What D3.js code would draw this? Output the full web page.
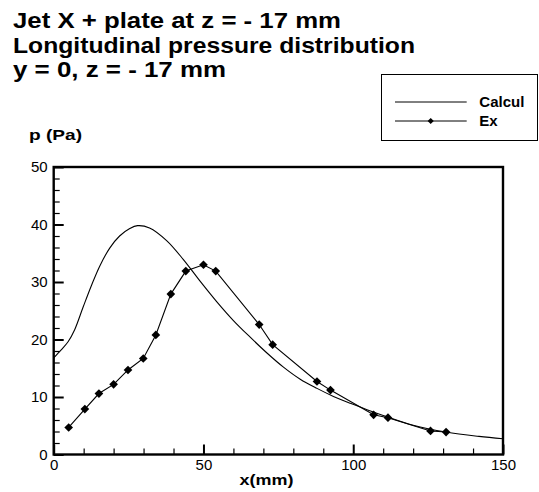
<!DOCTYPE html>
<html><head><meta charset="utf-8">
<script src="https://cdn.jsdelivr.net/npm/d3@7"></script>
<style>
body{margin:0;background:#fff}
svg{display:block}
text{font-family:"Liberation Sans",Arial,Helvetica,sans-serif;fill:#000}
</style>
</head><body>
<svg id="chart" width="539" height="492"></svg>
<script>
// ---- data ----
const titleLines = ["Jet X + plate at z = - 17 mm", "Longitudinal pressure distribution", "y = 0, z = - 17 mm"];
const xLabel = "x(mm)";
const yLabel = "p (Pa)";
const seriesNames = ["Calcul", "Ex"];
const xTicks = [0, 50, 100, 150];
const yTicks = [0, 10, 20, 30, 40, 50];
const xMinorTicks = [10, 20, 30, 40, 60, 70, 80, 90, 110, 120, 130, 140];
const yMinorTicks = [2, 4, 6, 8, 12, 14, 16, 18, 22, 24, 26, 28, 32, 34, 36, 38, 42, 44, 46, 48];

const calculX = [0, 2.5, 4.8, 7, 9.8, 12.6, 15.4, 18.7, 22, 25.4, 28, 32, 37.7, 43.3, 48.8, 54.4, 60, 65.6, 71.1, 76.7, 82.3, 87.9, 93.4, 99, 104.6, 110, 120, 131, 142, 150];
const calculY = [16.8, 18.2, 19.6, 21.7, 25.6, 29.4, 32.8, 35.9, 38.0, 39.3, 39.8, 39.4, 37.2, 33.9, 30.2, 26.6, 23.3, 20.4, 17.7, 15.2, 13.1, 11.5, 10.1, 8.9, 7.8, 6.8, 5.1, 3.9, 3.15, 2.75];

const exX = [5.0, 10.4, 15.1, 20.0, 24.8, 29.9, 34.1, 39.1, 44.1, 50.0, 54.1, 68.6, 73.1, 87.9, 92.4, 106.8, 111.6, 125.8, 131.0];
const exY = [4.7, 7.9, 10.6, 12.2, 14.7, 16.7, 20.8, 27.9, 31.9, 33.0, 31.9, 22.6, 19.1, 12.7, 11.2, 6.9, 6.4, 4.1, 3.9];

// ---- layout ----
const svg = d3.select("#chart");
const x = d3.scaleLinear().domain([0, 150]).range([53.7, 503]);
const y = d3.scaleLinear().domain([0, 50]).range([454.5, 167]);

// title
const titleWidths = [328, 402, 213];
titleLines.forEach((t, i) => {
  svg.append("text")
    .attr("x", 13).attr("y", 28 + i * 24.5)
    .attr("font-size", 22).attr("font-weight", "bold")
    .attr("textLength", titleWidths[i]).attr("lengthAdjust", "spacingAndGlyphs")
    .text(t);
});

// y label
svg.append("text").attr("x", 29).attr("y", 140)
  .attr("font-size", 15).attr("font-weight", "bold")
  .attr("textLength", 53).attr("lengthAdjust", "spacingAndGlyphs")
  .text(yLabel);

// x label
svg.append("text").attr("x", 239.5).attr("y", 485)
  .attr("font-size", 15).attr("font-weight", "bold")
  .attr("textLength", 54).attr("lengthAdjust", "spacingAndGlyphs")
  .text(xLabel);

// axes: major
const gx = svg.append("g").attr("transform", `translate(0,${y(0)})`)
  .call(d3.axisBottom(x).tickValues(xTicks).tickSizeInner(-10).tickSizeOuter(0).tickPadding(5).tickFormat(d3.format("d")));
const gy = svg.append("g").attr("transform", `translate(${x(0)},0)`)
  .call(d3.axisLeft(y).tickValues(yTicks).tickSizeInner(-10).tickSizeOuter(0).tickPadding(6).tickFormat(d3.format("d")));
// minor
svg.append("g").attr("transform", `translate(0,${y(0)})`)
  .call(d3.axisBottom(x).tickValues(xMinorTicks).tickSizeInner(-6).tickSizeOuter(0).tickFormat(""));
svg.append("g").attr("transform", `translate(${x(0)},0)`)
  .call(d3.axisLeft(y).tickValues(yMinorTicks).tickSizeInner(-6).tickSizeOuter(0).tickFormat(""));

svg.selectAll(".domain").remove();
svg.selectAll(".tick line").attr("stroke", "#000").attr("stroke-width", 1.2);
gx.selectAll(".tick line").attr("stroke-width", 2);
gy.selectAll(".tick line").attr("stroke-width", 2);
svg.selectAll(".tick text").attr("font-size", 15).attr("font-family", "'Liberation Sans',Arial,sans-serif").attr("fill", "#000");

// frame
svg.append("rect")
  .attr("x", x(0)).attr("y", y(50))
  .attr("width", x(150) - x(0)).attr("height", y(0) - y(50))
  .attr("fill", "none").attr("stroke", "#000").attr("stroke-width", 2.4);

// Calcul curve
const calc = calculX.map((v, i) => [v, calculY[i]]);
svg.append("path").datum(calc)
  .attr("fill", "none").attr("stroke", "#000").attr("stroke-width", 1.1)
  .attr("d", d3.line().x(d => x(d[0])).y(d => y(d[1])).curve(d3.curveCatmullRom.alpha(0.5)));

// Ex
const ex = exX.map((v, i) => [v, exY[i]]);
svg.append("path").datum(ex)
  .attr("fill", "none").attr("stroke", "#000").attr("stroke-width", 1.1)
  .attr("d", d3.line().x(d => x(d[0])).y(d => y(d[1])));
const diamond = d3.symbol().type(d3.symbolDiamond2).size(48);
svg.append("g").selectAll("path").data(ex).join("path")
  .attr("transform", d => `translate(${x(d[0])},${y(d[1])})`)
  .attr("d", diamond).attr("fill", "#000");

// legend
const lg = svg.append("g");
lg.append("rect").attr("x", 381.5).attr("y", 74.5).attr("width", 156).attr("height", 66)
  .attr("fill", "#fff").attr("stroke", "#000").attr("stroke-width", 1);
seriesNames.forEach((n, i) => {
  const ly = 102 + i * 19;
  lg.append("line").attr("x1", 395).attr("x2", 466.7).attr("y1", ly).attr("y2", ly)
    .attr("stroke", "#000").attr("stroke-width", 1);
  if (i === 1) {
    lg.append("path").attr("transform", `translate(430.7,${ly})`)
      .attr("d", d3.symbol().type(d3.symbolDiamond2).size(24)).attr("fill", "#000");
  }
  lg.append("text").attr("x", 479.3).attr("y", ly + 5.3)
    .attr("font-size", 15).attr("font-weight", "bold").text(n);
});
</script>
</body></html>
